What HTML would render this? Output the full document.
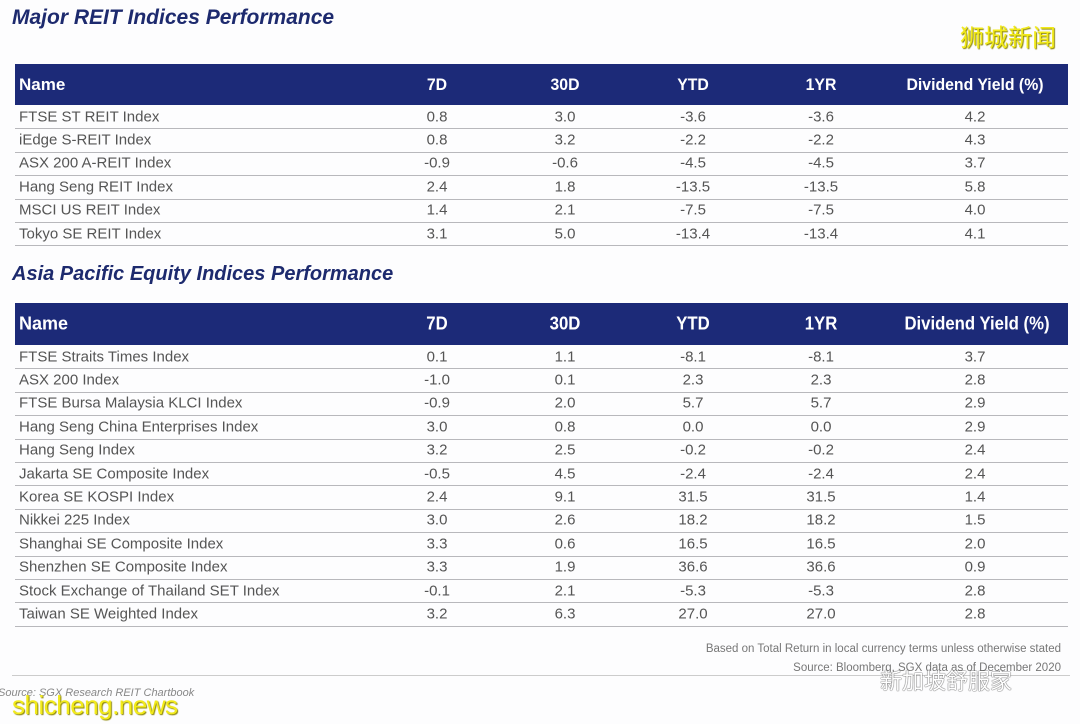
<!DOCTYPE html>
<html><head><meta charset="utf-8">
<style>
body{margin:0;width:1080px;height:724px;background:#fdfdfe;position:relative;overflow:hidden;font-family:"Liberation Sans","Noto Sans CJK SC",sans-serif;}
.t{position:absolute;left:12px;font-style:italic;font-weight:bold;color:#1d2a6e;font-size:21px;}
.hdr{position:absolute;left:15px;width:1053px;background:#1c2a78;color:#fff;font-weight:bold;font-size:17px;}
.hdr span,.row span{position:absolute;top:50%;transform:translate(-50%,-50%);white-space:nowrap;}
.hdr span{transform:translate(-50%,-50%) scaleX(0.93);}
.hdr span.n{transform:translate(0,-50%);}
.row span.n{transform:translate(0,-50%);left:4px;}
.hdr span.n{left:4px;}
.row{position:absolute;left:15px;width:1053px;height:23.4px;border-bottom:1px solid #b8b8bc;color:#555;font-size:15px;}
.c1{left:422px}.c2{left:550px}.c3{left:678px}.c4{left:806px}.c5{left:960px}
</style></head><body>
<div class="t" style="top:6px">Major REIT Indices Performance</div>
<div style="position:absolute;left:960px;top:18px;font-size:24px;color:#f2ea1a;text-shadow:1px 1px 1px #8a8400;">狮城新闻</div>
<div class="hdr" style="top:64px;height:41px"><span class="n">Name</span><span class="c1">7D</span><span class="c2">30D</span><span class="c3">YTD</span><span class="c4">1YR</span><span class="c5">Dividend Yield (%)</span></div>
<div class="row" style="top:105px"><span class="n">FTSE ST REIT Index</span><span class="c1">0.8</span><span class="c2">3.0</span><span class="c3">-3.6</span><span class="c4">-3.6</span><span class="c5">4.2</span></div>
<div class="row" style="top:128.4px"><span class="n">iEdge S-REIT Index</span><span class="c1">0.8</span><span class="c2">3.2</span><span class="c3">-2.2</span><span class="c4">-2.2</span><span class="c5">4.3</span></div>
<div class="row" style="top:151.8px"><span class="n">ASX 200 A-REIT Index</span><span class="c1">-0.9</span><span class="c2">-0.6</span><span class="c3">-4.5</span><span class="c4">-4.5</span><span class="c5">3.7</span></div>
<div class="row" style="top:175.2px"><span class="n">Hang Seng REIT Index</span><span class="c1">2.4</span><span class="c2">1.8</span><span class="c3">-13.5</span><span class="c4">-13.5</span><span class="c5">5.8</span></div>
<div class="row" style="top:198.6px"><span class="n">MSCI US REIT Index</span><span class="c1">1.4</span><span class="c2">2.1</span><span class="c3">-7.5</span><span class="c4">-7.5</span><span class="c5">4.0</span></div>
<div class="row" style="top:222px"><span class="n">Tokyo SE REIT Index</span><span class="c1">3.1</span><span class="c2">5.0</span><span class="c3">-13.4</span><span class="c4">-13.4</span><span class="c5">4.1</span></div>

<div class="t" style="top:263px;font-size:20px">Asia Pacific Equity Indices Performance</div>
<div class="hdr" style="top:303px;height:42px;font-size:18px"><span class="n">Name</span><span class="c1">7D</span><span class="c2">30D</span><span class="c3">YTD</span><span class="c4">1YR</span><span class="c5" style="left:962px">Dividend Yield (%)</span></div>
<div class="row" style="top:345px"><span class="n">FTSE Straits Times Index</span><span class="c1">0.1</span><span class="c2">1.1</span><span class="c3">-8.1</span><span class="c4">-8.1</span><span class="c5">3.7</span></div>
<div class="row" style="top:368.4px"><span class="n">ASX 200 Index</span><span class="c1">-1.0</span><span class="c2">0.1</span><span class="c3">2.3</span><span class="c4">2.3</span><span class="c5">2.8</span></div>
<div class="row" style="top:391.8px"><span class="n">FTSE Bursa Malaysia KLCI Index</span><span class="c1">-0.9</span><span class="c2">2.0</span><span class="c3">5.7</span><span class="c4">5.7</span><span class="c5">2.9</span></div>
<div class="row" style="top:415.2px"><span class="n">Hang Seng China Enterprises Index</span><span class="c1">3.0</span><span class="c2">0.8</span><span class="c3">0.0</span><span class="c4">0.0</span><span class="c5">2.9</span></div>
<div class="row" style="top:438.6px"><span class="n">Hang Seng Index</span><span class="c1">3.2</span><span class="c2">2.5</span><span class="c3">-0.2</span><span class="c4">-0.2</span><span class="c5">2.4</span></div>
<div class="row" style="top:462px"><span class="n">Jakarta SE Composite Index</span><span class="c1">-0.5</span><span class="c2">4.5</span><span class="c3">-2.4</span><span class="c4">-2.4</span><span class="c5">2.4</span></div>
<div class="row" style="top:485.4px"><span class="n">Korea SE KOSPI Index</span><span class="c1">2.4</span><span class="c2">9.1</span><span class="c3">31.5</span><span class="c4">31.5</span><span class="c5">1.4</span></div>
<div class="row" style="top:508.8px"><span class="n">Nikkei 225 Index</span><span class="c1">3.0</span><span class="c2">2.6</span><span class="c3">18.2</span><span class="c4">18.2</span><span class="c5">1.5</span></div>
<div class="row" style="top:532.2px"><span class="n">Shanghai SE Composite Index</span><span class="c1">3.3</span><span class="c2">0.6</span><span class="c3">16.5</span><span class="c4">16.5</span><span class="c5">2.0</span></div>
<div class="row" style="top:555.6px"><span class="n">Shenzhen SE Composite Index</span><span class="c1">3.3</span><span class="c2">1.9</span><span class="c3">36.6</span><span class="c4">36.6</span><span class="c5">0.9</span></div>
<div class="row" style="top:579px"><span class="n">Stock Exchange of Thailand SET Index</span><span class="c1">-0.1</span><span class="c2">2.1</span><span class="c3">-5.3</span><span class="c4">-5.3</span><span class="c5">2.8</span></div>
<div class="row" style="top:602.4px"><span class="n">Taiwan SE Weighted Index</span><span class="c1">3.2</span><span class="c2">6.3</span><span class="c3">27.0</span><span class="c4">27.0</span><span class="c5">2.8</span></div>

<div style="position:absolute;right:19px;top:643px;font-size:11.5px;color:#777;">Based on Total Return in local currency terms unless otherwise stated</div>
<div style="position:absolute;right:19px;top:662px;font-size:11.5px;color:#777;">Source: Bloomberg, SGX data as of December 2020</div>
<div style="position:absolute;left:12px;top:675px;width:1058px;border-top:1px solid #ccc;"></div>
<div style="position:absolute;left:880px;top:664px;font-size:22px;color:#fff;text-shadow:0 0 1px #444,0 0 1px #444;">新加坡舒服家</div>
<div style="position:absolute;left:-2px;top:687px;font-size:11px;font-style:italic;color:#888;">Source: SGX Research REIT Chartbook</div>
<div style="position:absolute;left:12px;top:690px;font-size:26px;color:#f2ea1a;text-shadow:1px 1px 1px #8a8400;letter-spacing:-0.5px;">shicheng.news</div>
</body></html>
